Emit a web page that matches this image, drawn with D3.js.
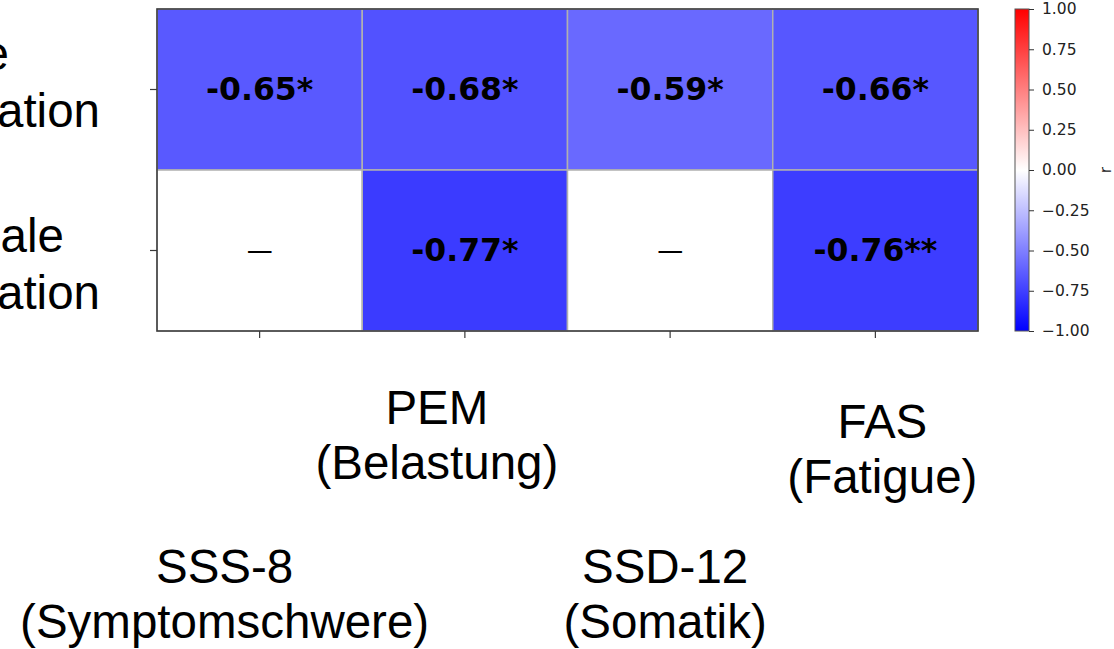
<!DOCTYPE html>
<html><head><meta charset="utf-8">
<script src="https://cdn.jsdelivr.net/npm/d3@7"></script>
<style>body{margin:0;background:#fff;}svg{display:block;}</style>
</head><body>
<svg id="c" width="1114" height="649"></svg>
<script>
// ---- data ----
const columns = ["SSS-8|(Symptomschwere)", "PEM|(Belastung)", "SSD-12|(Somatik)", "FAS|(Fatigue)"];
const rows = ["Körperliche|Aktivitätsregulation", "Soziale|Aktivitätsregulation"];
const valuesRow1 = [-0.65, -0.68, -0.59, -0.66];
const valuesRow2 = [null, -0.77, null, -0.76];
const starsRow1 = ["*", "*", "*", "*"];
const starsRow2 = ["", "*", "", "**"];
const colorbarTicks = [-1.0, -0.75, -0.5, -0.25, 0, 0.25, 0.5, 0.75, 1.0];
const colorbarLabel = "r";

// ---- layout ----
const svg = d3.select("#c");
const L = 157, R = 978, T = 9, B = 331;
const x = d3.scaleBand().domain(columns).range([L, R]);
const y = d3.scaleBand().domain(rows).range([T, B]);
const color = d3.scaleLinear().domain([-1, 0, 1]).range(["#0000ff", "#ffffff", "#ff0000"]);

const cells = [];
[valuesRow1, valuesRow2].forEach((vals, ri) => {
  const stars = ri === 0 ? starsRow1 : starsRow2;
  vals.forEach((v, ci) => cells.push({row: rows[ri], col: columns[ci], v, s: stars[ci]}));
});

svg.selectAll("rect.cell").data(cells).enter().append("rect")
  .attr("x", d => x(d.col)).attr("y", d => y(d.row))
  .attr("width", x.bandwidth()).attr("height", y.bandwidth())
  .attr("fill", d => d.v == null ? "#ffffff" : color(d.v))
  .attr("stroke", "#b0b0b0").attr("stroke-width", 1.5);

svg.selectAll("text.cell").data(cells).enter().append("text")
  .attr("x", d => x(d.col) + x.bandwidth() / 2)
  .attr("y", d => y(d.row) + y.bandwidth() / 2 - 1)
  .attr("text-anchor", "middle").attr("dominant-baseline", "central")
  .style("font-family", "DejaVu Sans")
  .style("font-weight", d => d.v == null ? "normal" : "bold")
  .style("font-size", d => d.v == null ? "26px" : "31.5px")
  .attr("fill", "#000")
  .text(d => d.v == null ? "—" : d.v.toFixed(2) + d.s);

// frame
svg.append("rect").attr("x", L).attr("y", T).attr("width", R - L).attr("height", B - T)
  .attr("fill", "none").attr("stroke", "#3a3a3a").attr("stroke-width", 1.5);

// axes ticks (labels drawn separately)
const xAxis = svg.append("g").attr("transform", `translate(0,${B})`)
  .call(d3.axisBottom(x).tickSize(7).tickFormat(""));
xAxis.select(".domain").remove();
xAxis.selectAll("line").attr("stroke", "#3a3a3a").attr("stroke-width", 1.2);
const yAxis = svg.append("g").attr("transform", `translate(${L},0)`)
  .call(d3.axisLeft(y).tickSize(7).tickFormat(""));
yAxis.select(".domain").remove();
yAxis.selectAll("line").attr("stroke", "#3a3a3a").attr("stroke-width", 1.2);

// x labels (staggered overlay, Arial-like)
const xLabelOffsets = [{dx: -35, y: 583}, {dx: -28, y: 424}, {dx: -5, y: 583}, {dx: 7, y: 438}];
columns.forEach((c, i) => {
  const lines = c.split("|");
  const t = svg.append("text")
    .attr("text-anchor", "middle")
    .style("font-family", "Liberation Sans, Arial, sans-serif")
    .style("font-size", "47.5px").attr("fill", "#000");
  lines.forEach((ln, j) => t.append("tspan")
    .attr("x", x(c) + x.bandwidth() / 2 + xLabelOffsets[i].dx)
    .attr("y", xLabelOffsets[i].y + j * 55).text(ln));
});

// y labels (cut off at left edge, as in the source)
const yLineRight = [[9, 100], [64, 100]];
const yLineDy = [-20, 1];
rows.forEach((r, i) => {
  const lines = r.split("|");
  const cy = y(r) + y.bandwidth() / 2;
  lines.forEach((ln, j) => svg.append("text")
    .attr("x", yLineRight[i][j]).attr("y", cy + yLineDy[i] + j * 57)
    .attr("text-anchor", "end")
    .style("font-family", "Liberation Sans, Arial, sans-serif")
    .style("font-size", "47.5px").attr("fill", "#000").text(ln));
});

// colorbar
const cbX = 1015, cbW = 14;
const cy2 = d3.scaleLinear().domain([-1, 1]).range([B, T]);
const grad = svg.append("defs").append("linearGradient").attr("id", "g")
  .attr("x1", 0).attr("y1", 1).attr("x2", 0).attr("y2", 0);
[-1, 0, 1].forEach(v => grad.append("stop").attr("offset", (v + 1) / 2).attr("stop-color", color(v)));
svg.append("rect").attr("x", cbX).attr("y", T).attr("width", cbW).attr("height", B - T)
  .attr("fill", "url(#g)").attr("stroke", "#555").attr("stroke-width", 1);
const cbAxis = svg.append("g").attr("transform", `translate(${cbX + cbW},0)`)
  .call(d3.axisRight(cy2).tickValues(colorbarTicks).tickSize(5)
    .tickFormat(d => d3.format(".2f")(d).replace("-", "\u2212")));
cbAxis.select(".domain").remove();
cbAxis.selectAll("line").attr("stroke", "#333");
cbAxis.selectAll("text").attr("fill", "#222").attr("x", 13)
  .style("font-family", "DejaVu Sans").style("font-size", "15.5px");
svg.append("text").attr("transform", `translate(1111,${(T + B) / 2}) rotate(-90)`)
  .attr("text-anchor", "middle")
  .style("font-family", "DejaVu Sans").style("font-size", "15.5px").attr("fill", "#222")
  .text(colorbarLabel);
</script>
</body></html>
